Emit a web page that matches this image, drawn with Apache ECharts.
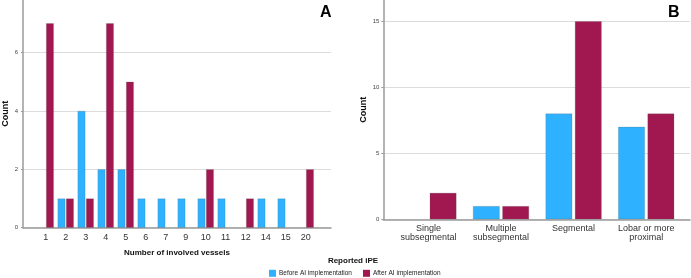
<!DOCTYPE html>
<html>
<head>
<meta charset="utf-8">
<script src="https://cdn.jsdelivr.net/npm/echarts@6/dist/echarts.min.js"></script>
<style>
  html, body { margin: 0; padding: 0; background: #fff; }
  #chart { width: 691px; height: 278px; }
</style>
</head>
<body>
<div id="chart"></div>
<script>
// panel A
const vesselCats = ['1', '2', '3', '4', '5', '6', '7', '9', '10', '11', '12', '14', '15', '20'];
const vesselBefore = [null, 1, 4, 2, 2, 1, 1, 1, 1, 1, null, 1, 1, null];
const vesselAfter = [7, 1, 1, 7, 5, null, null, null, 2, null, 1, null, null, 2];
// panel B
const levelCats = ['Single\nsubsegmental', 'Multiple\nsubsegmental', 'Segmental', 'Lobar or more\nproximal'];
const levelBefore = [null, 1, 8, 7];
const levelAfter = [2, 1, 15, 8];

const BLUE = '#2EB1FE';
const RED = '#A11850';
const FONT = 'Liberation Sans, Arial, sans-serif';

const chart = echarts.init(document.getElementById('chart'));

const frameX = (gi, name) => ({
    type: 'value', gridIndex: gi, min: 0, max: 1,
    axisLine: { show: true, lineStyle: { color: '#9a9a9a', width: 1.5 } },
    axisTick: { show: false }, axisLabel: { show: false }, splitLine: { show: false },
    name: name, nameLocation: 'middle', nameGap: 21.5,
    nameTextStyle: { fontFamily: FONT, fontSize: 8, fontWeight: 'bold', color: '#111' }
});
const catX = (gi, data, lh) => ({
    type: 'category', gridIndex: gi, data: data,
    axisLine: { show: false }, axisTick: { show: false }, splitLine: { show: false },
    axisLabel: { fontFamily: FONT, fontSize: 9, color: '#333', margin: 5, lineHeight: lh, interval: 0 }
});
const frameY = (gi, max, interval, gap, margin) => ({
    type: 'value', gridIndex: gi, min: 0, max: max, interval: interval,
    name: 'Count', nameLocation: 'middle', nameRotate: 90, nameGap: gap,
    nameTextStyle: { fontFamily: FONT, fontSize: 9, fontWeight: 'bold', color: '#111' },
    axisLine: { show: true, lineStyle: { color: '#9a9a9a', width: 1.5 } },
    axisTick: { show: true, length: 2, lineStyle: { color: '#9a9a9a' } },
    axisLabel: { fontFamily: FONT, fontSize: 6, color: '#444', margin: margin, showMaxLabel: false },
    splitLine: { show: true, showMaxLine: false, lineStyle: { color: '#dcdcdc', width: 1 } }
});
const hiddenY = (gi, max) => ({
    type: 'value', gridIndex: gi, min: 0, max: max, show: false, splitLine: { show: false }
});
const bar = (name, data, color, idx, w) => ({
    name: name, type: 'bar', xAxisIndex: idx, yAxisIndex: idx, data: data,
    barWidth: w, barGap: '10%',
    itemStyle: { color: color, borderColor: 'rgba(90,90,90,0.45)', borderWidth: 0.5 }
});

const option = {
    animation: false,
    textStyle: { fontFamily: FONT },
    title: [
        { text: 'A', left: 320, top: 5, padding: 0, textStyle: { fontFamily: FONT, fontSize: 16, fontWeight: 'bold', color: '#000' } },
        { text: 'B', left: 668, top: 5, padding: 0, textStyle: { fontFamily: FONT, fontSize: 16, fontWeight: 'bold', color: '#000' } },
        { text: 'Reported iPE', left: 353, top: 256.5, padding: 0, textAlign: 'center', textStyle: { fontFamily: FONT, fontSize: 8, fontWeight: 'bold', color: '#111' } }
    ],
    legend: {
        data: ['Before AI implementation', 'After AI implementation'],
        left: 269, top: 269.8, padding: 0, icon: 'rect', itemWidth: 7, itemHeight: 7, itemGap: 11,
        textStyle: { fontFamily: FONT, fontSize: 6.5, color: '#222', padding: [0, 0, 0, -2] },
        itemStyle: { borderWidth: 0 }
    },
    grid: [
        { left: 22, top: 0, width: 309, height: 227.7 },
        { left: 35.7, top: 0, width: 280, height: 227.7 },
        { left: 383.3, top: 0, width: 306.7, height: 219.3 },
        { left: 392.1, top: 0, width: 290.4, height: 219.3 }
    ],
    xAxis: [
        frameX(0, 'Number of involved vessels'),
        catX(1, vesselCats, 9),
        frameX(2, ''),
        catX(3, levelCats, 8.5)
    ],
    yAxis: [
        frameY(0, 7.8, 2, 13, 5),
        hiddenY(1, 7.8),
        frameY(2, 16.6, 5, 15, 4),
        hiddenY(3, 16.6)
    ],
    series: [
        bar('Before AI implementation', vesselBefore, BLUE, 1, 7.7),
        bar('After AI implementation', vesselAfter, RED, 1, 7.7),
        bar('Before AI implementation', levelBefore, BLUE, 3, 26.7),
        bar('After AI implementation', levelAfter, RED, 3, 26.7)
    ]
};

chart.setOption(option);
</script>
</body>
</html>
